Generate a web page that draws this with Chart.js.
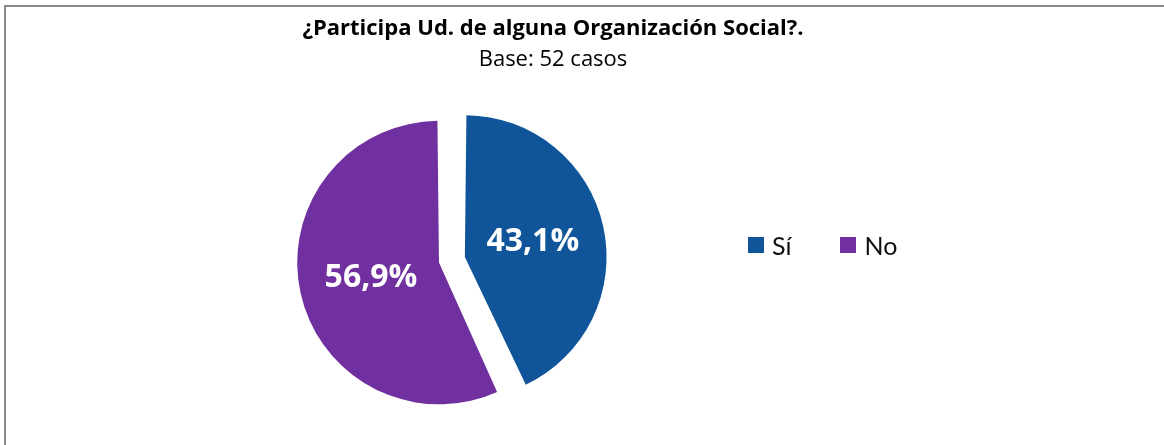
<!DOCTYPE html>
<html>
<head>
<meta charset="utf-8">
<script src="https://cdn.jsdelivr.net/npm/chart.js@4.4.1/dist/chart.umd.min.js"></script>
<style>
  body { margin: 0; background: #fff; }
  #wrap { position: relative; width: 1164px; height: 445px; overflow: hidden; }
  #frame { position: absolute; left: 4px; top: 5px; right: -10px; bottom: -10px;
           border-top: 2px solid #8a8a8a; border-left: 2px solid #8a8a8a; }
  canvas { position: absolute; left: 0; top: 0; }
  #legend { position: absolute; left: 748px; top: 229px; height: 32px; display: flex; align-items: center;
            font-family: Lato, sans-serif; font-size: 25px; color: #111; }
  #legend .item { display: flex; align-items: center; margin-right: 49px; }
  #legend .box { width: 16px; height: 16px; margin-right: 8px; }
</style>
</head>
<body>
<div id="wrap">
  <div id="frame"></div>
  <canvas id="pie" width="1164" height="445"></canvas>
  <div id="legend"></div>
</div>
<script>
const titleText = '¿Participa Ud. de alguna Organización Social?.';
const subtitleText = 'Base: 52 casos';
const labels = ['Sí', 'No'];
const values = [43.1, 56.9];
const colors = ['#10559A', '#7030A0'];

// keeps the pie left of the title centre, like the original layout
const rightSpace = {
  id: 'rightSpace',
  beforeInit(chart) {
    Chart.layouts.addBox(chart, {
      position: 'right', weight: 0, fullSize: false, options: {},
      left: 0, top: 0, right: 0, bottom: 0, width: 0, height: 0,
      isHorizontal() { return false; },
      update(maxWidth, maxHeight) { this.width = 209; this.height = maxHeight; },
      draw() {}
    });
  }
};

const sliceLabels = {
  id: 'sliceLabels',
  afterDatasetsDraw(chart) {
    const ctx = chart.ctx;
    const meta = chart.getDatasetMeta(0);
    ctx.save();
    ctx.font = 'bold 32px "Open Sans"';
    ctx.fillStyle = '#fff';
    ctx.textAlign = 'center';
    ctx.textBaseline = 'middle';
    meta.data.forEach((arc, i) => {
      const mid = (arc.startAngle + arc.endAngle) / 2;
      const shift = (arc.options.offset || 0) / 4;
      const d = shift + 0.49 * (arc.outerRadius + 10);
      const text = values[i].toFixed(1).replace('.', ',') + '%';
      ctx.fillText(text, arc.x + Math.cos(mid) * d, arc.y + Math.sin(mid) * d);
    });
    ctx.restore();
  }
};

new Chart(document.getElementById('pie').getContext('2d'), {
  type: 'pie',
  data: {
    labels: labels,
    datasets: [{
      data: values,
      backgroundColor: colors,
      borderWidth: 0,
      offset: [67, 39]
    }]
  },
  options: {
    responsive: false,
    animation: false,
    radius: 132,
    layout: { padding: { left: 0, right: 58, top: 0, bottom: 19 } },
    plugins: {
      legend: { display: false },
      tooltip: { enabled: false },
      title: {
        display: true,
        text: titleText,
        color: '#000',
        font: { family: 'Open Sans', size: 22, weight: 'bold' },
        padding: { top: 15.8, bottom: 0 }
      },
      subtitle: {
        display: true,
        text: subtitleText,
        color: '#000',
        font: { family: 'Open Sans', size: 22 },
        padding: { top: 4.6, bottom: 21.8 }
      }
    }
  },
  plugins: [rightSpace, sliceLabels]
});

const legend = document.getElementById('legend');
labels.forEach((lab, i) => {
  const item = document.createElement('div');
  item.className = 'item';
  const box = document.createElement('span');
  box.className = 'box';
  box.style.background = colors[i];
  const txt = document.createElement('span');
  txt.textContent = lab;
  item.appendChild(box);
  item.appendChild(txt);
  legend.appendChild(item);
});
</script>
</body>
</html>
